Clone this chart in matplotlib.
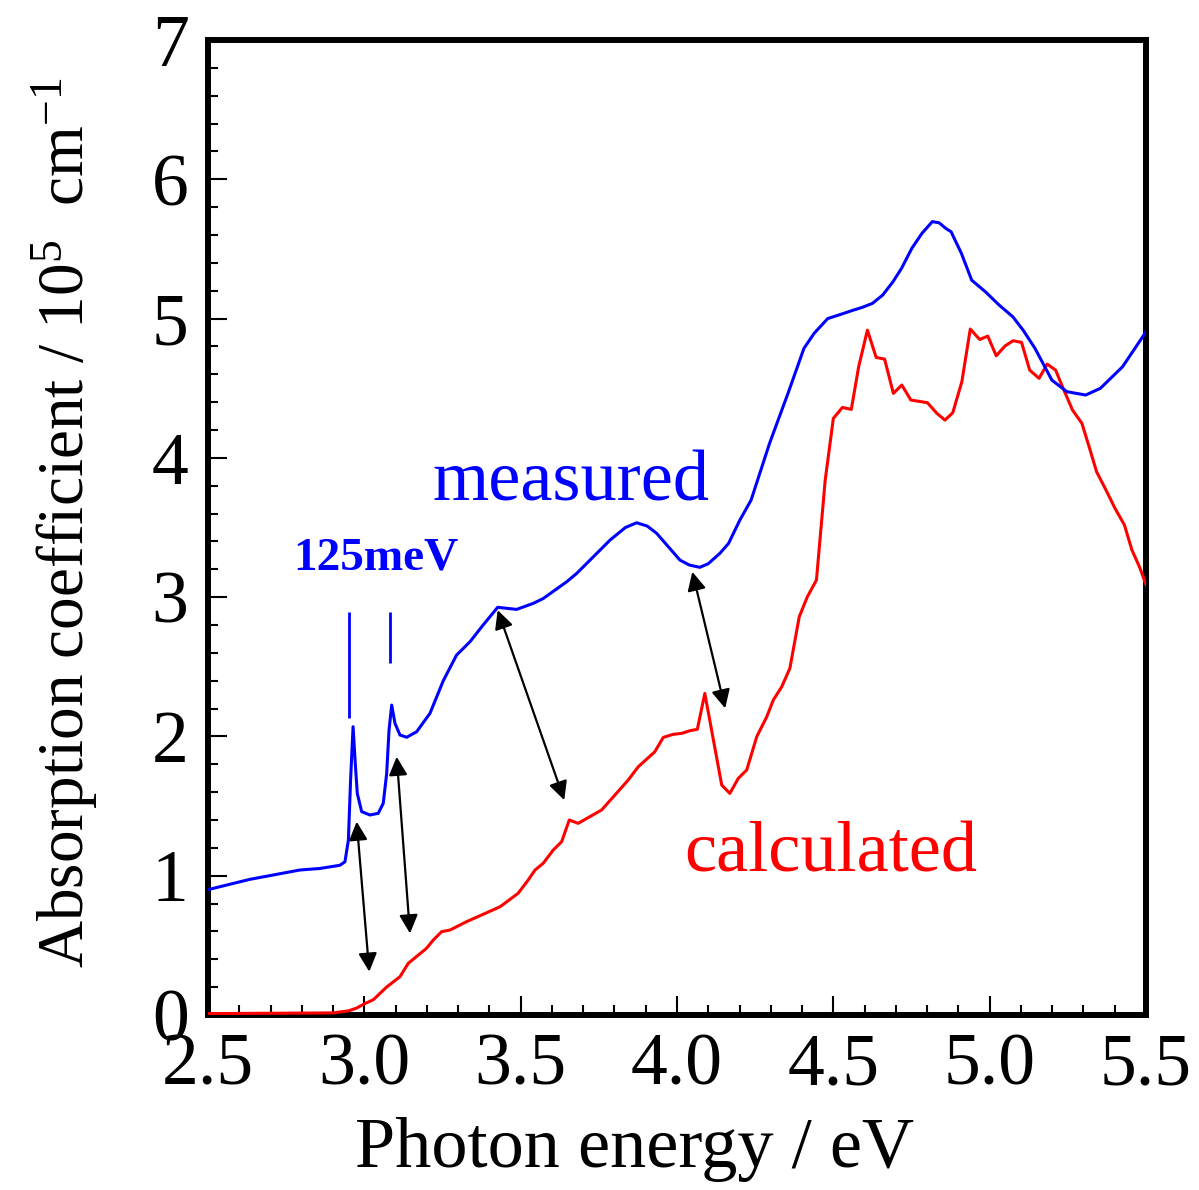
import matplotlib
matplotlib.use("Agg")
import matplotlib.pyplot as plt
from matplotlib.ticker import MultipleLocator, FormatStrFormatter

plt.rcParams['font.family'] = ['Liberation Serif', 'DejaVu Serif']
plt.rcParams['mathtext.fontset'] = 'custom'
plt.rcParams['mathtext.rm'] = 'Liberation Serif'
plt.rcParams['mathtext.it'] = 'Liberation Serif:italic'
plt.rcParams['mathtext.bf'] = 'Liberation Serif:bold'

# measured absorption (blue)
meas_x = [2.50, 2.634, 2.794, 2.858, 2.922, 2.938, 2.949, 2.956, 2.964, 2.971, 2.9775,
          2.9915, 3.018, 3.0445, 3.0605, 3.0715, 3.079, 3.0875, 3.098, 3.114, 3.1355,
          3.1675, 3.21, 3.2525, 3.295, 3.338, 3.38, 3.4265, 3.487, 3.540, 3.572, 3.647,
          3.679, 3.754, 3.786, 3.835, 3.871, 3.905, 3.935, 4.0095, 4.04, 4.073, 4.10,
          4.137, 4.165, 4.201, 4.237, 4.296, 4.355, 4.406, 4.4386, 4.482, 4.526, 4.5646,
          4.592, 4.625, 4.658, 4.6906, 4.718, 4.751, 4.7835, 4.8166, 4.838, 4.86, 4.8767,
          4.9096, 4.9425, 4.9865, 5.0303, 5.074, 5.107, 5.145, 5.199, 5.247, 5.307,
          5.354, 5.425, 5.50]
meas_y = [0.90, 0.974, 1.041, 1.052, 1.075, 1.10, 1.256, 1.687, 2.07, 1.807, 1.59,
          1.46, 1.436, 1.448, 1.52, 1.735, 2.046, 2.225, 2.094, 2.01, 1.994,
          2.034, 2.166, 2.40, 2.584, 2.68, 2.80, 2.927, 2.912, 2.955, 2.99, 3.11,
          3.17, 3.338, 3.41, 3.50, 3.534, 3.51, 3.458, 3.266, 3.23, 3.214, 3.24,
          3.314, 3.386, 3.553, 3.697, 4.104, 4.463, 4.786, 4.894, 5.0, 5.032, 5.061,
          5.08, 5.109, 5.169, 5.264, 5.36, 5.504, 5.612, 5.696, 5.688, 5.647, 5.623,
          5.468, 5.276, 5.192, 5.097, 5.013, 4.917, 4.786, 4.558, 4.475, 4.451,
          4.499, 4.654, 4.905]

# calculated absorption (red)
calc_x = [2.50, 2.90, 2.95, 2.9755, 3.0, 3.029, 3.071, 3.114, 3.1405, 3.199, 3.2205,
          3.247, 3.274, 3.327, 3.434, 3.492, 3.524, 3.546, 3.572, 3.604, 3.631, 3.6555,
          3.684, 3.759, 3.844, 3.876, 3.929, 3.956, 3.988, 4.015, 4.041, 4.065, 4.089,
          4.143, 4.169, 4.196, 4.223, 4.255, 4.287, 4.308, 4.335, 4.361, 4.391, 4.417,
          4.446, 4.474, 4.50, 4.529, 4.5575, 4.581, 4.609, 4.637, 4.664, 4.692, 4.719,
          4.748, 4.801, 4.831, 4.857, 4.882, 4.911, 4.938, 4.968, 4.994, 5.021, 5.049,
          5.075, 5.102, 5.128, 5.158, 5.184, 5.211, 5.235, 5.265, 5.295, 5.318, 5.342,
          5.372, 5.401, 5.431, 5.455, 5.479, 5.50]
calc_y = [0.01, 0.015, 0.03, 0.05, 0.08, 0.11, 0.20, 0.275, 0.371, 0.479, 0.538,
          0.598, 0.61, 0.67, 0.777, 0.874, 0.969, 1.041, 1.089, 1.184, 1.244, 1.40,
          1.376, 1.472, 1.687, 1.782, 1.89, 1.993, 2.015, 2.022, 2.041, 2.051, 2.309,
          1.651, 1.591, 1.699, 1.759, 1.998, 2.141, 2.261, 2.357, 2.489, 2.859, 3.003,
          3.123, 3.84, 4.283, 4.362, 4.348, 4.654, 4.917, 4.721, 4.709, 4.463, 4.523,
          4.415, 4.396, 4.32, 4.271, 4.324, 4.546, 4.925, 4.85, 4.874, 4.733, 4.803,
          4.841, 4.829, 4.63, 4.571, 4.673, 4.63, 4.499, 4.343, 4.248, 4.08, 3.9,
          3.769, 3.637, 3.518, 3.338, 3.218, 3.09]

# exciton marker lines (x, y_bottom, y_top)
mark_x = [2.951, 3.082]
mark_ylo = [2.13, 2.53]
mark_yhi = [2.89, 2.89]

# double-headed arrows: (x_start, y_start, x_end, y_end)
arrows = [
    (2.9755, 1.388, 3.0158, 0.311),
    (3.1035, 1.854, 3.146, 0.586),
    (3.4265, 2.907, 3.6394, 1.543),
    (4.049, 3.182, 4.154, 2.202),
]

xticks = [2.5, 3.0, 3.5, 4.0, 4.5, 5.0, 5.5]
yticks = [0, 1, 2, 3, 4, 5, 6, 7]

fig = plt.figure(figsize=(11.99, 11.90), dpi=100)
ax = fig.add_axes([208/1199, 1-1015/1190, (1146-208)/1199, (1015-40)/1190])

ax.plot(calc_x, calc_y, color='#ff0000', lw=2.2, zorder=3)
ax.plot(meas_x, meas_y, color='#0000ff', lw=2.2, zorder=4)

ax.vlines(mark_x, mark_ylo, mark_yhi, color='#0000ff', lw=2.0)

for (x0, y0, x1, y1) in arrows:
    ax.annotate('', xy=(x1, y1), xytext=(x0, y0),
                arrowprops=dict(arrowstyle='<|-|>', color='black', lw=1.6,
                                mutation_scale=28, shrinkA=0, shrinkB=0))

ax.text(3.2195, 3.697, 'measured', color='#0000ff', fontsize=52, ha='left', va='baseline')
ax.text(4.022, 1.027, 'calculated', color='#ff0000', fontsize=52, ha='left', va='baseline')
ax.text(2.772, 3.195, '125meV', color='#0000ff', fontsize=34, fontweight='bold',
        ha='left', va='baseline')

ax.set_xlim(2.5, 5.5)
ax.set_ylim(0, 7)
ax.set_xticks(xticks)
ax.set_yticks(yticks)
ax.xaxis.set_major_formatter(FormatStrFormatter('%.1f'))
ax.yaxis.set_major_formatter(FormatStrFormatter('%d'))
ax.xaxis.set_minor_locator(MultipleLocator(0.1))
ax.yaxis.set_minor_locator(MultipleLocator(0.2))
ax.tick_params(which='both', direction='in', top=False, right=False, width=1.5,
               labelsize=53)
ax.tick_params(which='major', length=14)
ax.tick_params(axis='x', which='major', pad=13)
ax.tick_params(axis='y', which='major', pad=14)
ax.tick_params(which='minor', length=7)
for s in ax.spines.values():
    s.set_linewidth(4.3)

ax.set_xlabel('Photon energy / eV', fontsize=52)
ax.set_ylabel('Absorption coefficient / 10$^5$  cm$^{-1}$', fontsize=47)
ax.xaxis.set_label_coords(0.455, -0.105)
ax.yaxis.set_label_coords(-0.115, 0.505)

fig.savefig('out.png', dpi=100)
